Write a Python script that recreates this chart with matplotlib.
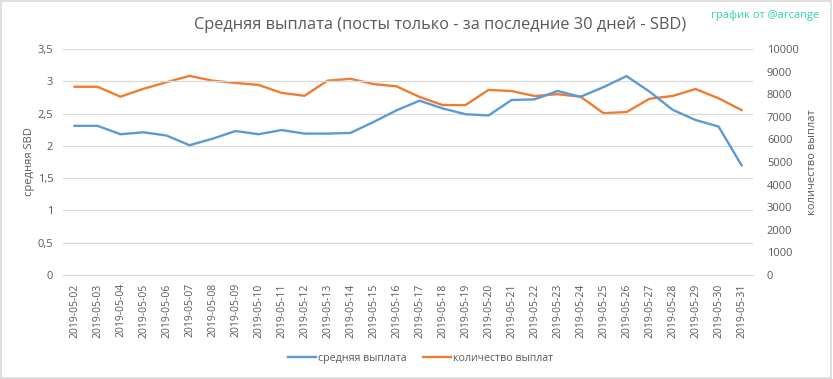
import matplotlib
matplotlib.use("Agg")
import matplotlib.pyplot as plt
from matplotlib.patches import Rectangle
from matplotlib.ticker import FuncFormatter

plt.rcParams['font.family'] = ['Open Sans', 'DejaVu Sans']

dates = ['2019-05-%02d' % d for d in range(2, 32)]

avg_payout = [2.31, 2.31, 2.18, 2.21, 2.16, 2.01, 2.11, 2.23, 2.18, 2.245,
              2.19, 2.19, 2.20, 2.37, 2.55, 2.70, 2.58, 2.49, 2.47, 2.71,
              2.72, 2.85, 2.76, 2.91, 3.08, 2.84, 2.56, 2.40, 2.30, 1.70]

payout_count = [8330, 8330, 7890, 8240, 8530, 8810, 8600, 8500, 8410, 8060,
                7930, 8600, 8680, 8450, 8350, 7880, 7520, 7520, 8190, 8140,
                7920, 8000, 7890, 7160, 7210, 7800, 7920, 8230, 7820, 7300]

blue = '#5b9bd5'
orange = '#ed7d31'
grey = '#595959'
grid = '#d9d9d9'

fig = plt.figure(figsize=(8.33, 3.79), dpi=100)
ax = fig.add_axes([0.0756, 0.2744, 0.8284, 0.5963])
ax2 = ax.twinx()

x = list(range(len(dates)))
l1, = ax.plot(x, avg_payout, color=blue, lw=1.7, label='средняя выплата')
l2, = ax2.plot(x, payout_count, color=orange, lw=1.7, label='количество выплат')

ax.set_xlim(-0.5, len(dates) - 0.5)
ax.set_ylim(0, 3.5)
ax.set_yticks([0, 0.5, 1, 1.5, 2, 2.5, 3, 3.5])
ax.yaxis.set_major_formatter(FuncFormatter(lambda v, p: ('%g' % v).replace('.', ',')))
ax2.set_ylim(0, 10000)
ax2.set_yticks(range(0, 10001, 1000))

ax.set_xticks(x)
ax.set_xticklabels(dates, rotation=90, fontsize=7.5, color=grey)
ax.grid(axis='y', color=grid, lw=0.9)
ax.set_axisbelow(True)
ax.set_zorder(ax2.get_zorder() + 1)
ax.patch.set_visible(False)

for a in (ax, ax2):
    for s in a.spines.values():
        s.set_visible(False)
    a.tick_params(length=0, labelsize=8, labelcolor=grey)
ax.spines['bottom'].set_visible(True)
ax.spines['bottom'].set_color(grid)
ax.tick_params(axis='x', pad=6, labelsize=7.5)
ax.tick_params(axis='y', pad=7)
ax2.tick_params(axis='y', pad=10)

ax.set_ylabel('средняя SBD', fontsize=8, color=grey, labelpad=2)
ax2.set_ylabel('количество выплат', fontsize=8, color=grey, labelpad=6)

fig.text(0.528, 0.935, 'Средняя выплата (посты только - за последние 30 дней - SBD)',
         ha='center', va='center', fontsize=11.8, color=grey)
fig.text(0.918, 0.96, 'график от @arcange', ha='center', va='center',
         fontsize=8, color='#33d1b0')

fig.legend(handles=[l1, l2], loc='center', bbox_to_anchor=(0.505, 0.055),
           ncol=2, frameon=False, fontsize=7.7, labelcolor=grey,
           handlelength=2.6, handletextpad=0.2, columnspacing=1.5)

fig.add_artist(Rectangle((0.001, 0.002), 0.997, 0.995, transform=fig.transFigure,
                         fill=False, edgecolor='#d9d9d9', lw=1.2))

fig.savefig('out.png', dpi=100)
